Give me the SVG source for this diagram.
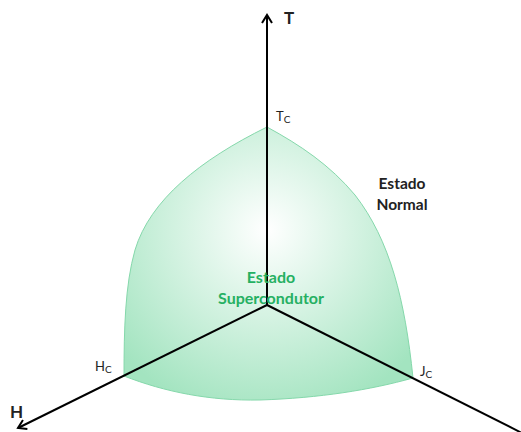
<svg xmlns="http://www.w3.org/2000/svg" width="521" height="432" viewBox="0 0 521 432">
<defs>
<style>
.ax{stroke:#000;stroke-width:2;fill:none}
.lbl{font-family:Lato,"Open Sans","Liberation Sans",sans-serif;fill:#222}
.b{font-weight:bold}
.g{fill:#25b062;font-weight:bold;font-size:16px}
</style>
<radialGradient id="rg" cx="267" cy="230" r="190" gradientUnits="userSpaceOnUse">
<stop offset="0" stop-color="#ffffff"/>
<stop offset="1" stop-color="#a3e4c0"/>
</radialGradient>
<marker id="ar" viewBox="0 0 12 12" refX="10" refY="6" markerWidth="12" markerHeight="12" markerUnits="userSpaceOnUse" orient="auto">
<path d="M2,1 L10,6 L2,11" fill="none" stroke="#000" stroke-width="2"/>
</marker>
</defs>
<g id="region">
<path d="M267,127 C300,145 330,165 355,195 C390,240 405,300 413,378 C370,390 320,398 260,400 C210,401 165,392 124,376 C124,330 125,285 135,250 C150,200 200,160 267,127 Z" fill="url(#rg)" stroke="#85d8ab" stroke-width="1"/>
</g>
<g id="connectors">
<line class="ax" x1="267" y1="305" x2="267" y2="15" marker-end="url(#ar)"/>
<line class="ax" x1="267" y1="305" x2="18" y2="428" marker-end="url(#ar)"/>
<line class="ax" x1="267" y1="305" x2="522" y2="433"/>
</g>
<g id="labels">
<text class="lbl b" x="284" y="24" font-size="17">T</text>
<text class="lbl b" x="10" y="418" font-size="17">H</text>
<text class="lbl" x="276" y="121" font-size="13">T<tspan font-size="10" dy="2">C</tspan></text>
<text class="lbl" x="95" y="371" font-size="13">H<tspan font-size="10" dy="2">C</tspan></text>
<text class="lbl" x="420" y="376" font-size="13">J<tspan font-size="10" dy="2">C</tspan></text>
<text class="lbl b" x="402" y="189" font-size="15.5" text-anchor="middle">Estado</text>
<text class="lbl b" x="402" y="210" font-size="15.5" text-anchor="middle">Normal</text>
<text class="lbl g" x="271" y="283" text-anchor="middle">Estado</text>
<text class="lbl g" x="271" y="304" text-anchor="middle">Supercondutor</text>
</g>
</svg>
